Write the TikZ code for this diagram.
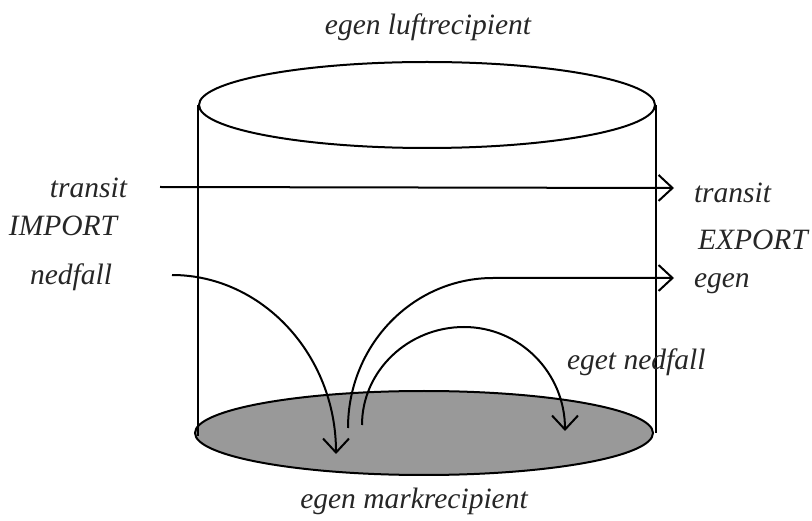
\documentclass[tikz,border=0pt]{standalone}
\usepackage{fontspec}
\setmainfont{Liberation Serif}
\usetikzlibrary{arrows.meta,shapes.geometric}
\begin{document}
\begin{tikzpicture}[x=1pt,y=-1pt,line width=2pt,
  lbl/.style={font=\fontsize{29.5}{34}\selectfont\itshape, inner sep=0pt, text=black!85},
  flow/.style={-{Straight Barb[length=14pt,width=26pt,line width=2pt]}},
  disc/.style={ellipse, draw, inner sep=0pt}]
\useasboundingbox (0,0) rectangle (812,521);
\fill[white] (0,0) rectangle (812,521);
% bottom (ground) ellipse
\node[disc, fill=black!40, minimum width=458pt, minimum height=84pt] (bot) at (424,433) {};
% top (air) ellipse
\node[disc, minimum width=456pt, minimum height=86pt] (top) at (427,105) {};
% sides
\draw (top.west) -- (top.west |- 0,436);
\draw (top.east) -- (top.east |- bot.east);
% labels
\node[lbl, anchor=base] (luft) at (428,35) {egen luftrecipient};
\node[lbl, anchor=base] (mark) at (414,508) {egen markrecipient};
\node[lbl, anchor=base east] (tinl) at (128,198) {transit};
\node[lbl, anchor=base west] (imp) at (8,236) {IMPORT};
\node[lbl, anchor=base east] (ned) at (113,285) {nedfall};
\node[lbl, anchor=base west] (toutl) at (693,203) {transit};
\node[lbl, anchor=base west] (exp) at (697,250) {EXPORT};
\node[lbl, anchor=base west] (egen) at (693,288) {egen};
\node[lbl, anchor=base west] (eget) at (566,370) {eget nedfall};
% connector ends
\coordinate (tin) at (160,187);
\coordinate (tout) at (674,188);
\coordinate (nin) at (172,275);
\coordinate (nend) at (336,454);
\coordinate (estart) at (348,428);
\coordinate (ebend) at (493,278);
\coordinate (eout) at (674,278);
\coordinate (gstart) at (362,425);
\coordinate (gtop) at (464,327);
\coordinate (gend) at (565,431);
% flows
\draw[flow] (tin) -- (tout);
\draw[flow] (nin) .. controls (262,275) and (336,355) .. (nend);
\draw[flow] (estart) .. controls (348,345) and (413,278) .. (ebend) -- (eout);
\draw[flow] (gstart) .. controls (362,371) and (408,327) .. (gtop)
  .. controls (520,327) and (565,373) .. (gend);
\end{tikzpicture}
\end{document}
